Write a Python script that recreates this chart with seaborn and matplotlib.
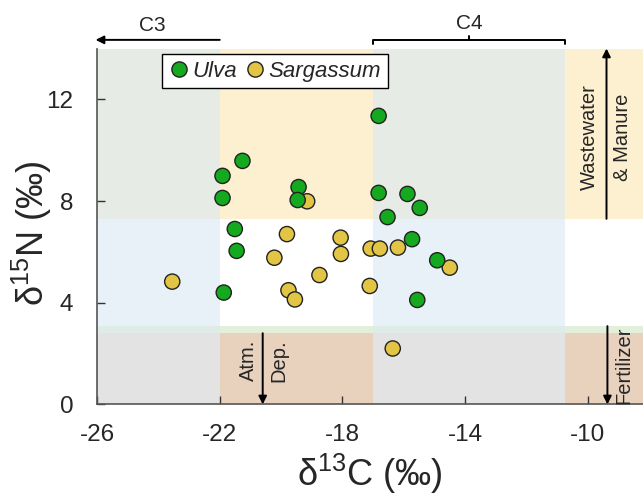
import numpy as np
import pandas as pd
import matplotlib.pyplot as plt
import seaborn as sns
from matplotlib.patches import Rectangle

# data (delta13C, delta15N)
ulva_c = [-16.82, -21.26, -21.91, -21.91, -19.43, -19.46, -16.82, -15.88,
          -15.48, -16.53, -21.51, -21.45, -15.73, -14.91, -21.87, -15.56]
ulva_n = [11.35, 9.58, 8.99, 8.12, 8.55, 8.04, 8.32, 8.28,
          7.73, 7.37, 6.90, 6.04, 6.50, 5.67, 4.40, 4.11]
sarg_c = [-19.15, -19.81, -18.06, -20.22, -18.05, -17.08, -16.78, -23.55,
          -18.75, -19.76, -19.55, -17.11, -16.19, -14.50, -16.36]
sarg_n = [7.99, 6.70, 6.56, 5.77, 5.92, 6.13, 6.13, 4.83,
          5.09, 4.49, 4.13, 4.66, 6.17, 5.38, 2.20]

species = ["Ulva", "Sargassum"]
colors = {"Ulva": "#14A91E", "Sargassum": "#E2C545"}

x_ticks = [-26, -22, -18, -14, -10]
y_ticks = [0, 4, 8, 12]

# background zones
col_edges = [-26, -22, -17, -10.75, -8.2]
row_edges = [0, 2.8, 3.1, 7.3, 14]
shaded_col = [True, False, True, False]
row_plain = ["#E8D2BE", "#E1EFDB", "#FFFFFF", "#FDF0D0"]
row_shaded = ["#E3E3E3", "#DEEBE6", "#E8F1F8", "#E7EBE5"]

df = pd.DataFrame({
    "d13C": sarg_c + ulva_c,
    "d15N": sarg_n + ulva_n,
    "species": ["Sargassum"] * len(sarg_c) + ["Ulva"] * len(ulva_c),
})

sns.set_style("ticks")
plt.rcParams["font.family"] = ["Liberation Sans", "DejaVu Sans"]
plt.rcParams["mathtext.fontset"] = "custom"
plt.rcParams["mathtext.rm"] = "Liberation Sans"
plt.rcParams["axes.unicode_minus"] = False

fig = plt.figure(figsize=(6.43, 4.95), dpi=100)
ax = fig.add_axes([0.151, 0.183, 0.849, 0.719])

for i in range(4):
    for j in range(4):
        c = row_shaded[j] if shaded_col[i] else row_plain[j]
        ax.add_patch(Rectangle((col_edges[i], row_edges[j]),
                               col_edges[i + 1] - col_edges[i],
                               row_edges[j + 1] - row_edges[j],
                               facecolor=c, edgecolor="none", zorder=0))

sns.scatterplot(
    data=df, x="d13C", y="d15N", hue="species", hue_order=species,
    palette=colors, s=120, edgecolor="#222222", linewidth=1, ax=ax, zorder=3
)

handles, labels = ax.get_legend_handles_labels()
leg = ax.legend(handles, labels, ncol=2, loc="upper left",
                bbox_to_anchor=(0.118, 0.985), borderaxespad=0,
                prop={"style": "italic", "size": 16}, frameon=True,
                fancybox=False, edgecolor="black", framealpha=1,
                handletextpad=0.1, columnspacing=0.3, handlelength=1.0,
                borderpad=0.3)
leg.get_frame().set_linewidth(1.0)

ax.set_xlim(-26, -8.2)
ax.set_ylim(0, 14)
ax.set_xticks(x_ticks)
ax.set_yticks(y_ticks)
ax.tick_params(direction="in", length=6, width=1, labelsize=17.5, color="#333333")
ax.tick_params(axis="x", pad=14)
ax.tick_params(axis="y", pad=17)
sns.despine(ax=ax)
for s in ["left", "bottom"]:
    ax.spines[s].set_color("#555555")
    ax.spines[s].set_linewidth(1.2)

ax.set_xlabel("δ$^{13}$C (‰)", fontsize=26)
ax.set_ylabel("δ$^{15}$N (‰)", fontsize=26)
ax.xaxis.set_label_coords(0.5, -0.134)
ax.yaxis.set_label_coords(-0.079, 0.48)

arrow = dict(arrowstyle="-|>", color="black", lw=1.4, mutation_scale=12,
             shrinkA=0, shrinkB=0)

# C3 arrow and C4 bracket above the plot
ax.annotate("", xy=(-26.05, 14.34), xytext=(-22, 14.34), arrowprops=arrow,
            annotation_clip=False)
ax.text(-24.2, 14.9, "C3", ha="center", va="center", fontsize=15, clip_on=False)
ax.plot([-17, -17, -10.75, -10.75], [14.18, 14.34, 14.34, 14.18],
        color="black", lw=1.4, clip_on=False)
ax.plot([-13.875, -13.875], [14.34, 14.5], color="black", lw=1.4, clip_on=False)
ax.text(-13.875, 15.0, "C4", ha="center", va="center", fontsize=15, clip_on=False)

# source arrows
ax.annotate("", xy=(-9.39, 14.0), xytext=(-9.39, 7.3), arrowprops=arrow)
ax.text(-9.94, 10.5, "Wastewater", rotation=90, ha="center", va="center", fontsize=14.5)
ax.text(-8.87, 10.5, "& Manure", rotation=90, ha="center", va="center", fontsize=14.5)

ax.annotate("", xy=(-9.36, 0.0), xytext=(-9.36, 3.08), arrowprops=arrow)
ax.text(-8.83, 1.55, "Fertilizer", rotation=90, ha="center", va="center", fontsize=14.5)

ax.annotate("", xy=(-20.6, 0.0), xytext=(-20.6, 2.8), arrowprops=arrow)
ax.text(-21.05, 1.72, "Atm.", rotation=90, ha="center", va="center", fontsize=14.5)
ax.text(-20.08, 1.72, "Dep.", rotation=90, ha="center", va="center", fontsize=14.5)

plt.savefig("out.png", dpi=100)
